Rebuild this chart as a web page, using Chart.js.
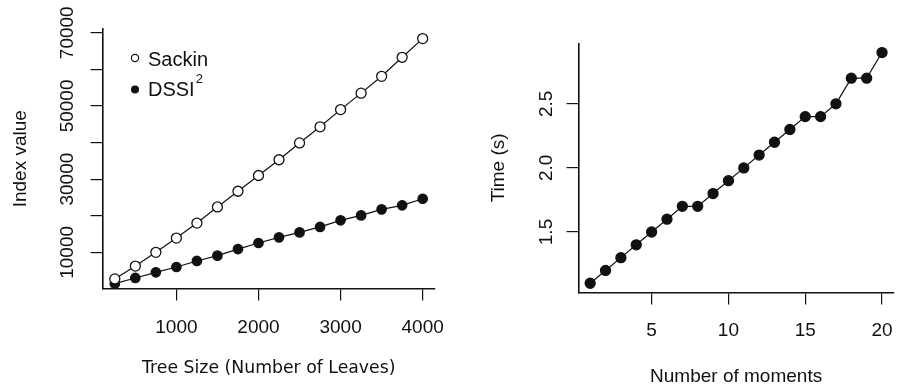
<!DOCTYPE html>
<html lang="en">
<head>
    <meta charset="UTF-8">
    <title>Index values and computing time</title>
    <script src="https://cdn.jsdelivr.net/npm/chart.js"></script>
    <style>
        html, body { margin: 0; padding: 0; background: #fff; overflow: hidden; }
        #wrap { position: relative; width: 897px; height: 387px; overflow: hidden; }
        #leftChart { position: absolute; left: 0; top: 0; }
        #rightChart { position: absolute; left: 450px; top: 0; }
    </style>
</head>
<body>
    <div id="wrap">
        <canvas id="leftChart" width="450" height="387"></canvas>
        <canvas id="rightChart" width="450" height="387"></canvas>
    </div>
    <script>
        // left panel: index values against tree size
        const treeSizes = [250, 500, 750, 1000, 1250, 1500, 1750, 2000, 2250, 2500, 2750, 3000, 3250, 3500, 3750, 4000];
        const sackinIndex = [2750, 6250, 10000, 13900, 18000, 22400, 26700, 31000, 35300, 39900, 44300, 49000, 53500, 58100, 63300, 68400];
        const dssiSquared = [1450, 3000, 4550, 6000, 7650, 9100, 10900, 12550, 14100, 15450, 16950, 18750, 20100, 21750, 22850, 24650];
        const leftXTickMarks = [1000, 2000, 3000, 4000];
        const leftYTickMarks = [10000, 20000, 30000, 40000, 50000, 60000, 70000];
        const leftXTicks = ['1000', '2000', '3000', '4000'];
        const leftYTicks = ['10000', '30000', '50000', '70000'];   // R drops the crowded ones

        // right panel: time against number of moments
        const momentCounts = [1, 2, 3, 4, 5, 6, 7, 8, 9, 10, 11, 12, 13, 14, 15, 16, 17, 18, 19, 20];
        const timeSeconds = [1.1, 1.2, 1.3, 1.4, 1.5, 1.6, 1.7, 1.7, 1.8, 1.9, 2.0, 2.1, 2.2, 2.3, 2.4, 2.4, 2.5, 2.7, 2.7, 2.9];
        const rightXTickMarks = [5, 10, 15, 20];
        const rightYTickMarks = [1.5, 2.0, 2.5];
        const rightXTicks = ['5', '10', '15', '20'];
        const rightYTicks = ['1.5', '2.0', '2.5'];

        const INK = '#111';
        const SANS = '"Liberation Sans", Arial, sans-serif';

        const toPoints = (xs, ys) => xs.map((x, i) => ({ x: x, y: ys[i] }));

        function axis(min, max, marks, size, horizontal) {
            return {
                type: 'linear',
                min: min,
                max: max,
                position: horizontal ? 'bottom' : 'left',
                ticks: { display: false },
                afterBuildTicks: s => { s.ticks = marks.map(v => ({ value: v })); },
                grid: { drawOnChartArea: false, drawTicks: true, tickLength: 12, color: INK, lineWidth: 1.2 },
                border: { display: true, color: INK, width: 1.6 },
                afterFit: s => { if (horizontal) s.height = size; else s.width = size; }
            };
        }

        function series(label, pts, filled, r) {
            return {
                label: label,
                data: pts,
                borderColor: INK,
                borderWidth: 1.2,
                pointRadius: r,
                pointBorderColor: INK,
                pointBorderWidth: 1.3,
                pointBackgroundColor: filled ? INK : '#fff',
                tension: 0,
                clip: false
            };
        }

        // R-style tick labels, axis titles and legend
        function textPlugin(cfg) {
            return {
                id: 'rText',
                afterDraw(chart) {
                    const ctx = chart.ctx;
                    const xs = chart.scales.x, ys = chart.scales.y;
                    const area = chart.chartArea;
                    ctx.save();
                    ctx.fillStyle = INK;
                    ctx.textBaseline = 'alphabetic';
                    ctx.textAlign = 'center';
                    ctx.font = '19px ' + SANS;
                    cfg.xTicks.forEach(t => ctx.fillText(t, xs.getPixelForValue(Number(t)), cfg.xTickBase));
                    cfg.yTicks.forEach(t => {
                        ctx.save();
                        ctx.translate(cfg.yTickBase, ys.getPixelForValue(Number(t)));
                        ctx.rotate(-Math.PI / 2);
                        ctx.fillText(t, 0, 0);
                        ctx.restore();
                    });

                    ctx.font = cfg.xTitleFont;
                    ctx.fillText(cfg.xTitle, (area.left + area.right) / 2, cfg.xTitleBase);

                    ctx.font = '19px ' + SANS;
                    ctx.save();
                    ctx.translate(cfg.yTitleBase, (area.top + area.bottom) / 2);
                    ctx.rotate(-Math.PI / 2);
                    ctx.fillText(cfg.yTitle, 0, 0);
                    ctx.restore();

                    if (cfg.legend) cfg.legend(ctx);
                    ctx.restore();
                }
            };
        }

        function drawLegend(ctx) {
            ctx.lineWidth = 1.2;
            ctx.strokeStyle = INK;
            ctx.beginPath();
            ctx.arc(135, 58, 3.6, 0, Math.PI * 2);
            ctx.fillStyle = '#fff';
            ctx.fill();
            ctx.stroke();
            ctx.beginPath();
            ctx.arc(135, 89.5, 4, 0, Math.PI * 2);
            ctx.fillStyle = INK;
            ctx.fill();

            ctx.textAlign = 'left';
            ctx.font = '20px ' + SANS;
            ctx.fillText('Sackin', 148, 66);
            ctx.fillText('DSSI', 148, 96);
            const w = ctx.measureText('DSSI').width;
            ctx.font = '13px ' + SANS;
            ctx.fillText('2', 148 + w + 1, 83);
        }

        new Chart(document.getElementById('leftChart'), {
            type: 'line',
            data: {
                datasets: [
                    series('Sackin', toPoints(treeSizes, sackinIndex), false, 5),
                    series('DSSI²', toPoints(treeSizes, dssiSquared), true, 4.7)
                ]
            },
            options: {
                responsive: false,
                animation: false,
                events: [],
                layout: { padding: { top: 29, right: 15, left: 0, bottom: 0 } },
                plugins: { legend: { display: false }, tooltip: { enabled: false } },
                scales: {
                    x: axis(100, 4150, leftXTickMarks, 98.5, true),
                    y: axis(124, 71026, leftYTickMarks, 102.5, false)
                }
            },
            plugins: [textPlugin({
                xTicks: leftXTicks, yTicks: leftYTicks,
                xTickBase: 333, yTickBase: 72.5,
                xTitle: 'Tree Size (Number of Leaves)', xTitleFont: '17.3px "DejaVu Sans", sans-serif', xTitleBase: 373.3,
                yTitle: 'Index value', yTitleBase: 26,
                legend: drawLegend
            })]
        });

        new Chart(document.getElementById('rightChart'), {
            type: 'line',
            data: {
                datasets: [series('Time', toPoints(momentCounts, timeSeconds), true, 5)]
            },
            options: {
                responsive: false,
                animation: false,
                events: [],
                layout: { padding: { top: 43.3, right: 2.5, left: 0, bottom: 0 } },
                plugins: { legend: { display: false }, tooltip: { enabled: false } },
                scales: {
                    x: axis(0.24, 20.76, rightXTickMarks, 94.5, true),
                    y: axis(1.028, 2.972, rightYTickMarks, 128.5, false)
                }
            },
            plugins: [textPlugin({
                xTicks: rightXTicks, yTicks: rightYTicks,
                xTickBase: 336, yTickBase: 101.5,
                xTitle: 'Number of moments', xTitleFont: '19px ' + SANS, xTitleBase: 381.5,
                yTitle: 'Time (s)', yTitleBase: 54
            })]
        });
    </script>
</body>
</html>
